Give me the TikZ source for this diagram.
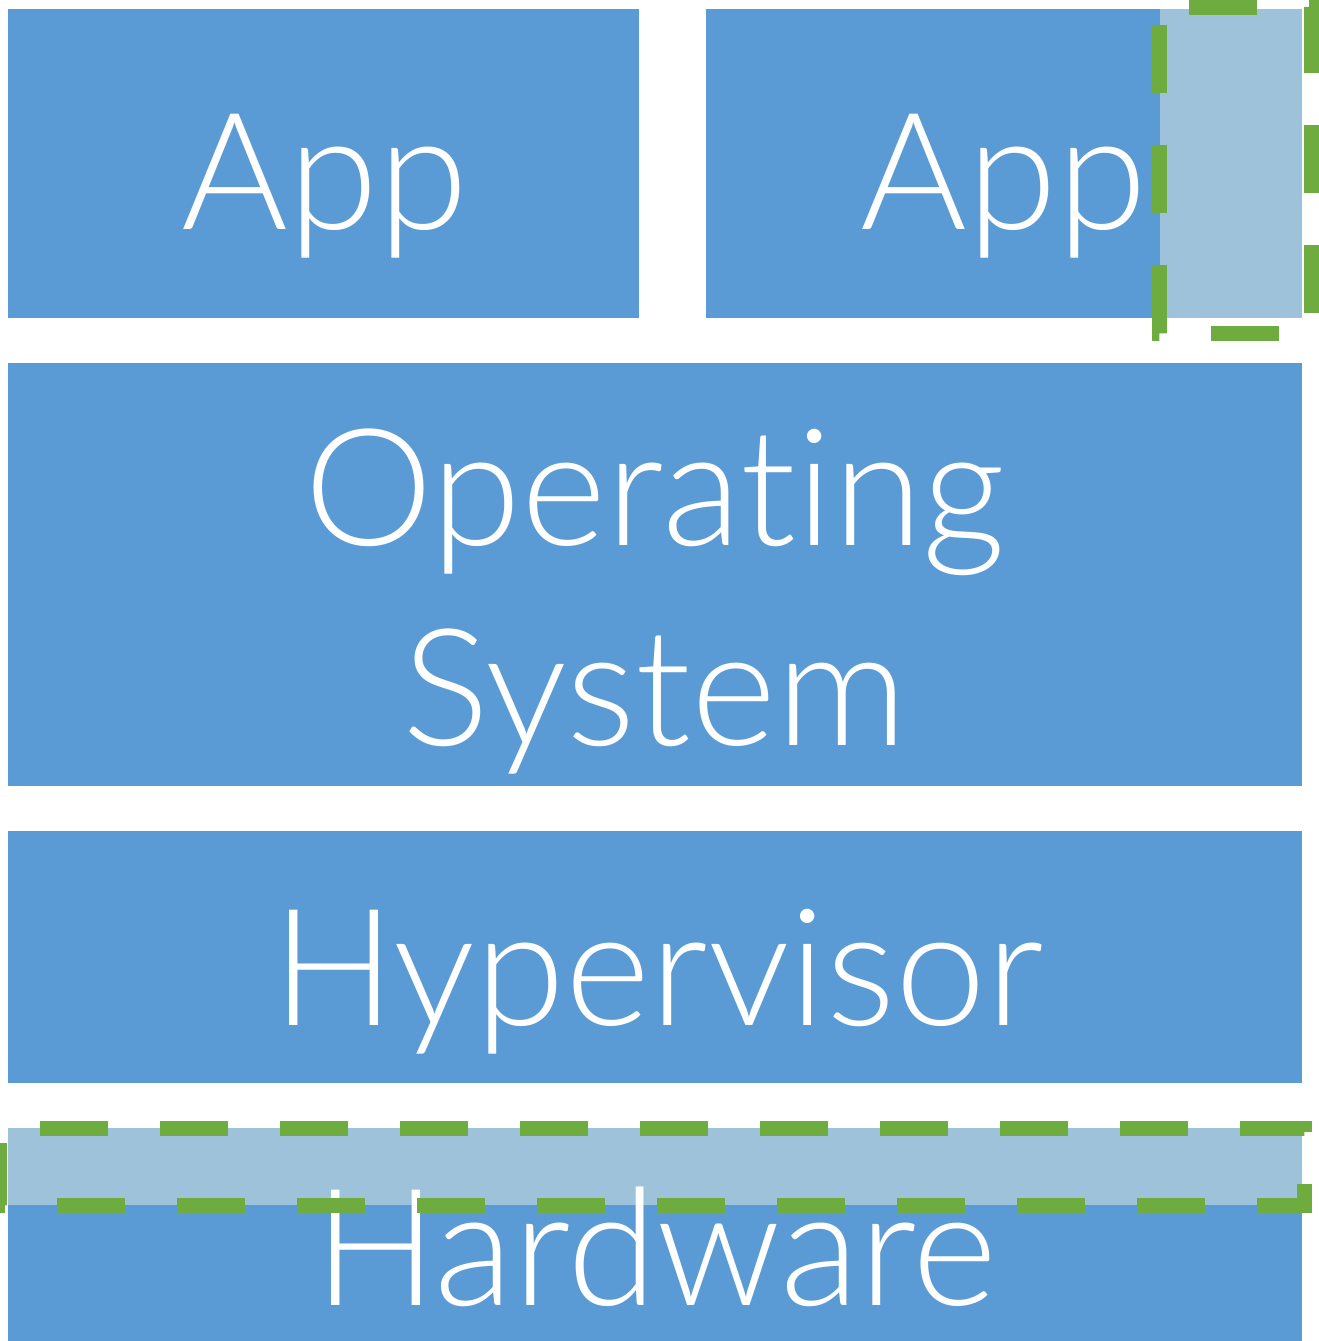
\documentclass[tikz,border=0pt]{standalone}
\usepackage{fontspec}
\setmainfont{Lato}[UprightFont=* Light, Ligatures=NoCommon]
\definecolor{boxblue}{HTML}{5B9BD5}
\definecolor{lightfill}{HTML}{9DC2DA}
\definecolor{dashgreen}{HTML}{6EAC3F}
\begin{document}
\begin{tikzpicture}[x=1pt,y=-1pt,
  layer/.style={fill=boxblue, draw=none, anchor=north west, inner sep=0pt, outer sep=0pt},
  lbl/.style={text=white, anchor=base, inner sep=0pt, font=\fontsize{163}{200}\selectfont},
  hl/.style={draw=dashgreen, line width=15pt, dash pattern=on 68pt off 52pt}]
\useasboundingbox (0,0) rectangle (1319,1341);
\fill[white] (0,0) rectangle (1319,1341);
% layers
\node[layer, minimum width=631pt, minimum height=309pt] (app1) at (8,9) {};
\node[layer, minimum width=596pt, minimum height=309pt] (app2) at (706,9) {};
\node[layer, minimum width=1294pt, minimum height=423pt] (os) at (8,363) {};
\node[layer, minimum width=1294pt, minimum height=252pt] (hyp) at (8,831) {};
\node[layer, minimum width=1294pt, minimum height=213pt] (hw) at (8,1128) {};
% highlighted regions
\node[layer, fill=lightfill, minimum width=142pt, minimum height=309pt] (hlapp) at (1160,9) {};
\node[layer, fill=lightfill, minimum width=1294pt, minimum height=77pt] (hlhw) at (8,1128) {};
% labels
\node[lbl] (t1) at (325,229) {App};
\node[lbl] (t2) at (1004,229) {App};
\node[lbl] (t3) at (655,545) {Operating};
\node[lbl] (t4) at (655,745) {System};
\node[lbl] (t5) at (658,1025) {Hypervisor};
\node[lbl] (t6) at (656,1305) {Hardware};
% dashed outlines
\draw[hl, dash phase=102pt] (1159,7) -- (1159,333) -- (1311,333) -- (1311,7) -- cycle;
\draw[hl, dash phase=79pt] (-1,1128) -- (1304,1128) -- (1304,1205) -- (-1,1205) -- cycle;
\end{tikzpicture}
\end{document}
